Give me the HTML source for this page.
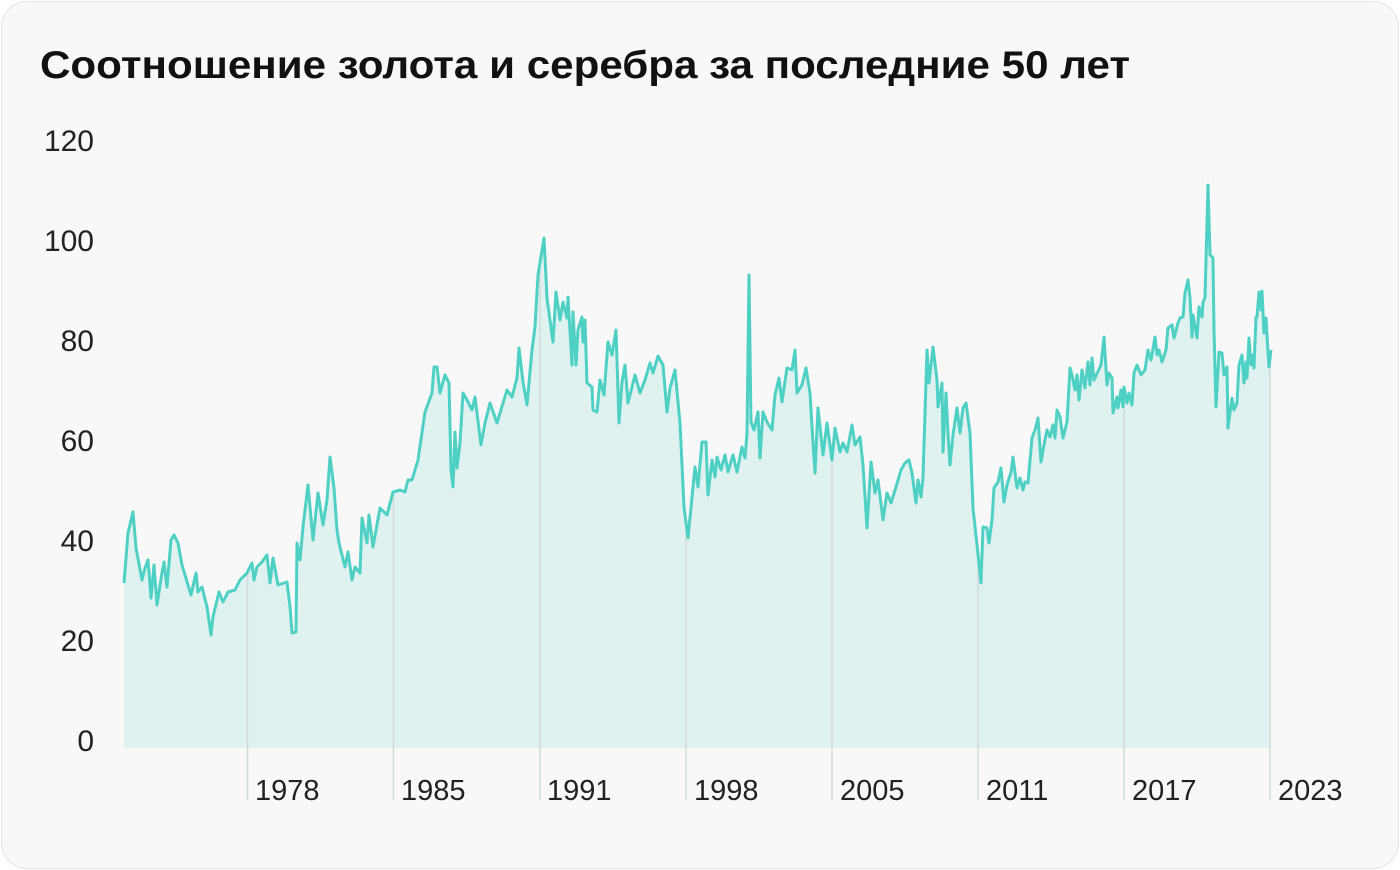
<!DOCTYPE html><html><head><meta charset="utf-8"><style>
html,body{margin:0;padding:0;background:#fff;}
.card{position:absolute;left:1px;top:1px;width:1396px;height:866px;border:1px solid #e4e4e4;border-radius:26px;background:#f8f8f8;}
</style></head><body><div class="card"></div>
<svg width="1400" height="870" style="position:absolute;left:0;top:0" font-family="Liberation Sans, sans-serif">
<text x="40" y="78" font-size="39" font-weight="bold" fill="#111" textLength="1090" lengthAdjust="spacingAndGlyphs">Соотношение золота и серебра за последние 50 лет</text>
<g font-size="30" fill="#222" text-anchor="end">
<text x="94" y="151">120</text><text x="94" y="251">100</text><text x="94" y="351">80</text><text x="94" y="451">60</text><text x="94" y="551">40</text><text x="94" y="651">20</text><text x="94" y="751">0</text></g>
<polygon fill="#e0f2ef" points="124,748 124,583 128,533 133,512 136,548 142,580 145,568 148,560 151,598 154,565 157,605 160,585 162,573 164,562 167,587 171,540 174,535 178,543 182,565 191,595 196,573 198,592 202,587 207,607 211,635 213,617 219,592 223,602 228,592 235,590 240,580 247,573 252,563 254,580 257,567 262,562 267,555 270,583 273,558 278,585 287,582 290,607 292,633 296,632 297,543 300,560 303,527 308,485 313,540 318,493 323,525 327,500 330,457 334,488 337,530 339,543 345,567 348,552 352,580 355,567 360,573 362,518 367,543 369,515 373,547 380,508 387,515 393,492 400,490 405,492 408,480 412,480 418,460 425,412 432,393 434,367 437,367 440,393 445,375 449,383 451,470 453,487 455,432 457,468 460,443 463,393 467,400 472,410 475,397 481,445 485,423 490,403 497,423 507,390 512,397 517,378 519,348 523,382 527,405 532,350 535,327 538,275 544,238 547,298 553,342 556,292 560,320 563,302 567,318 568,297 572,365 573,312 576,365 578,330 582,317 583,342 585,320 587,383 592,387 593,410 597,412 600,380 604,395 608,342 612,355 616,330 619,423 622,382 625,365 628,403 632,387 635,375 640,393 645,380 650,363 653,373 658,356 663,365 667,412 670,388 675,370 680,423 684,507 688,538 695,467 698,487 702,442 706,442 708,495 712,460 715,477 717,457 721,470 725,455 728,472 733,455 737,472 742,447 745,458 747,433 749,275 751,422 754,430 758,412 760,458 763,412 767,422 772,430 775,395 779,378 782,402 787,368 792,370 795,350 797,393 802,385 806,368 810,393 812,427 815,473 818,408 823,455 827,423 832,460 835,428 840,452 843,443 847,452 852,425 855,445 860,437 863,465 867,528 871,462 875,493 878,480 883,520 887,493 891,503 896,487 901,470 905,463 909,460 912,473 916,503 918,480 921,497 923,477 927,350 929,383 933,347 937,380 938,407 942,383 943,452 946,393 948,433 950,465 953,435 957,408 960,433 963,408 966,403 970,433 973,508 977,545 981,583 983,527 987,528 989,543 992,520 994,488 998,482 1001,468 1004,502 1007,485 1011,472 1013,457 1017,488 1020,478 1023,490 1025,482 1028,483 1032,438 1035,430 1038,418 1041,462 1044,445 1047,430 1050,437 1053,425 1055,438 1057,410 1060,417 1063,438 1067,422 1070,368 1072,375 1075,390 1077,375 1079,400 1082,370 1085,388 1088,362 1090,385 1092,358 1094,380 1101,365 1104,337 1107,385 1109,373 1112,378 1113,413 1117,397 1118,408 1121,390 1123,407 1124,387 1127,403 1129,393 1132,405 1134,373 1137,365 1141,375 1145,370 1148,350 1151,360 1155,337 1157,355 1159,350 1162,362 1166,350 1168,328 1172,325 1174,338 1178,323 1180,318 1183,317 1185,293 1188,280 1190,298 1192,337 1193,315 1197,338 1199,307 1202,317 1203,302 1205,298 1208,185 1210,255 1213,258 1214,330 1216,407 1219,352 1222,353 1224,375 1227,367 1228,428 1232,398 1234,410 1237,403 1239,365 1242,355 1244,383 1246,362 1247,378 1249,338 1251,365 1253,355 1254,368 1256,317 1257,317 1259,292 1261,310 1262,291 1264,333 1266,318 1268,352 1269,367 1271,350 1271,748"/>
<g stroke="#d3dbda" stroke-width="1.5">
<line x1="247.5" y1="573" x2="247.5" y2="800"/><line x1="393.5" y1="492" x2="393.5" y2="800"/><line x1="540" y1="260" x2="540" y2="800"/><line x1="686" y1="520" x2="686" y2="800"/><line x1="832" y1="460" x2="832" y2="800"/><line x1="978" y1="560" x2="978" y2="800"/><line x1="1124" y1="390" x2="1124" y2="800"/><line x1="1270" y1="350" x2="1270" y2="800"/></g>
<polyline fill="none" stroke="#4fd0c5" stroke-width="3" stroke-linejoin="round" points="124,583 128,533 133,512 136,548 142,580 145,568 148,560 151,598 154,565 157,605 160,585 162,573 164,562 167,587 171,540 174,535 178,543 182,565 191,595 196,573 198,592 202,587 207,607 211,635 213,617 219,592 223,602 228,592 235,590 240,580 247,573 252,563 254,580 257,567 262,562 267,555 270,583 273,558 278,585 287,582 290,607 292,633 296,632 297,543 300,560 303,527 308,485 313,540 318,493 323,525 327,500 330,457 334,488 337,530 339,543 345,567 348,552 352,580 355,567 360,573 362,518 367,543 369,515 373,547 380,508 387,515 393,492 400,490 405,492 408,480 412,480 418,460 425,412 432,393 434,367 437,367 440,393 445,375 449,383 451,470 453,487 455,432 457,468 460,443 463,393 467,400 472,410 475,397 481,445 485,423 490,403 497,423 507,390 512,397 517,378 519,348 523,382 527,405 532,350 535,327 538,275 544,238 547,298 553,342 556,292 560,320 563,302 567,318 568,297 572,365 573,312 576,365 578,330 582,317 583,342 585,320 587,383 592,387 593,410 597,412 600,380 604,395 608,342 612,355 616,330 619,423 622,382 625,365 628,403 632,387 635,375 640,393 645,380 650,363 653,373 658,356 663,365 667,412 670,388 675,370 680,423 684,507 688,538 695,467 698,487 702,442 706,442 708,495 712,460 715,477 717,457 721,470 725,455 728,472 733,455 737,472 742,447 745,458 747,433 749,275 751,422 754,430 758,412 760,458 763,412 767,422 772,430 775,395 779,378 782,402 787,368 792,370 795,350 797,393 802,385 806,368 810,393 812,427 815,473 818,408 823,455 827,423 832,460 835,428 840,452 843,443 847,452 852,425 855,445 860,437 863,465 867,528 871,462 875,493 878,480 883,520 887,493 891,503 896,487 901,470 905,463 909,460 912,473 916,503 918,480 921,497 923,477 927,350 929,383 933,347 937,380 938,407 942,383 943,452 946,393 948,433 950,465 953,435 957,408 960,433 963,408 966,403 970,433 973,508 977,545 981,583 983,527 987,528 989,543 992,520 994,488 998,482 1001,468 1004,502 1007,485 1011,472 1013,457 1017,488 1020,478 1023,490 1025,482 1028,483 1032,438 1035,430 1038,418 1041,462 1044,445 1047,430 1050,437 1053,425 1055,438 1057,410 1060,417 1063,438 1067,422 1070,368 1072,375 1075,390 1077,375 1079,400 1082,370 1085,388 1088,362 1090,385 1092,358 1094,380 1101,365 1104,337 1107,385 1109,373 1112,378 1113,413 1117,397 1118,408 1121,390 1123,407 1124,387 1127,403 1129,393 1132,405 1134,373 1137,365 1141,375 1145,370 1148,350 1151,360 1155,337 1157,355 1159,350 1162,362 1166,350 1168,328 1172,325 1174,338 1178,323 1180,318 1183,317 1185,293 1188,280 1190,298 1192,337 1193,315 1197,338 1199,307 1202,317 1203,302 1205,298 1208,185 1210,255 1213,258 1214,330 1216,407 1219,352 1222,353 1224,375 1227,367 1228,428 1232,398 1234,410 1237,403 1239,365 1242,355 1244,383 1246,362 1247,378 1249,338 1251,365 1253,355 1254,368 1256,317 1257,317 1259,292 1261,310 1262,291 1264,333 1266,318 1268,352 1269,367 1271,350"/>
<g font-size="29" fill="#222">
<text x="255" y="800">1978</text><text x="401" y="800">1985</text><text x="547" y="800">1991</text><text x="694" y="800">1998</text><text x="840" y="800">2005</text><text x="986" y="800">2011</text><text x="1132" y="800">2017</text><text x="1278" y="800">2023</text></g>
</svg></body></html>
